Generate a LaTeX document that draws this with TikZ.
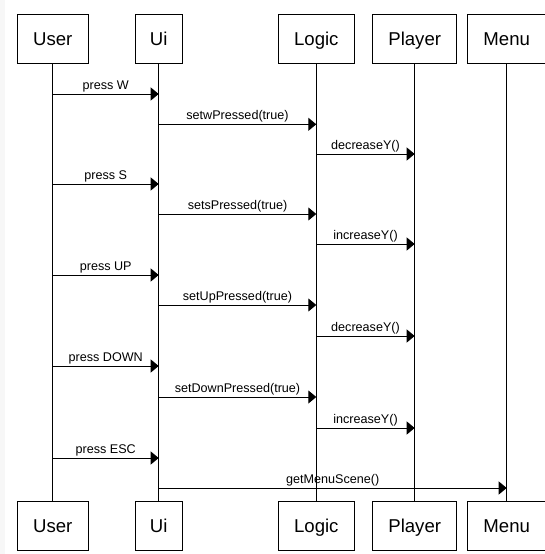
\documentclass[tikz,border=0pt]{standalone}
\usepackage{fontspec}
\setmainfont{Liberation Sans}
\usetikzlibrary{arrows.meta}
\begin{document}
\begin{tikzpicture}[x=1pt,y=-1pt,
  box/.style={draw, line width=1pt, minimum height=49pt, inner sep=0pt, text height=13.6pt, text depth=0pt, font=\fontsize{18.6}{20}\selectfont},
  life/.style={line width=1pt},
  msg/.style={line width=1pt, -{Triangle[length=8pt,width=13pt]}},
  lbl/.style={font=\fontsize{12.6}{14}\selectfont, above, inner sep=1.5pt}]
\useasboundingbox (0,0) rectangle (545,554);
\fill[gray!6] (0,0) rectangle (5,554);
% top boxes
\node[box, minimum width=71pt] (Utop) at (52.8,38.8) {User};
\node[box, minimum width=46.7pt] (Itop) at (158.7,38.8) {Ui};
\node[box, minimum width=76pt] (Ltop) at (316.3,38.8) {Logic};
\node[box, minimum width=84pt] (Ptop) at (414.7,38.8) {Player};
\node[box, minimum width=79pt] (Mtop) at (506.7,38.8) {Menu};
% bottom boxes
\node[box, minimum width=71pt] (Ubot) at (52.8,526) {User};
\node[box, minimum width=46.7pt] (Ibot) at (158.7,526) {Ui};
\node[box, minimum width=76pt] (Lbot) at (316.3,526) {Logic};
\node[box, minimum width=84pt] (Pbot) at (414.7,526) {Player};
\node[box, minimum width=79pt] (Mbot) at (506.7,526) {Menu};
% lifelines
\foreach \n in {U,I,L,P,M} {\draw[life] (\n top.south) -- (\n bot.north);}
% messages
\foreach \i/\y/\a/\b/\t in {
  1/94/U/I/press W,
  2/124.3/I/L/setwPressed(true),
  3/154/L/P/decreaseY(),
  4/184/U/I/press S,
  5/214/I/L/setsPressed(true),
  6/244/L/P/increaseY(),
  7/275/U/I/press UP,
  8/305/I/L/setUpPressed(true),
  9/336/L/P/decreaseY(),
  10/366/U/I/press DOWN,
  11/397/I/L/setDownPressed(true),
  12/428/L/P/increaseY(),
  13/458/U/I/press ESC,
  14/488/I/M/getMenuScene()} {
  \coordinate (m\i s) at (\a top.south |- 0,\y);
  \coordinate (m\i e) at (\b top.south |- 0,\y);
  \draw[msg] (m\i s) -- node[lbl]{\t} (m\i e);
}
\end{tikzpicture}
\end{document}
